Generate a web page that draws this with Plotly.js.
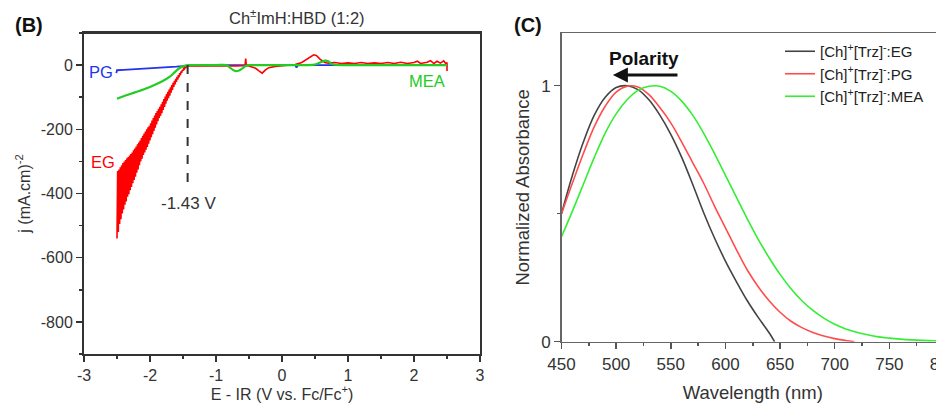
<!DOCTYPE html>
<html>
<head>
<meta charset="utf-8">
<script src="https://cdn.plot.ly/plotly-3.0.1.min.js"></script>
<style>
html,body{margin:0;padding:0;overflow:hidden;background:#fff;}
#chart{width:960px;height:403px;}
</style>
</head>
<body>
<div id="chart"></div>
<script>
// ---------- Panel B: current density vs potential ----------
const egX = [-2.50,-2.49,-2.48,-2.47,-2.46,-2.45,-2.44,-2.43,-2.42,-2.41,-2.40,-2.39,-2.38,-2.37,-2.36,-2.35,-2.34,-2.33,-2.32,-2.31,-2.30,-2.29,-2.28,-2.27,-2.26,-2.25,-2.24,-2.23,-2.22,-2.21,-2.20,-2.19,-2.18,-2.17,-2.16,-2.15,-2.14,-2.13,-2.12,-2.11,-2.10,-2.09,-2.08,-2.07,-2.06,-2.05,-2.04,-2.03,-2.02,-2.01,-2.00,-1.99,-1.98,-1.97,-1.96,-1.95,-1.94,-1.93,-1.92,-1.91,-1.90,-1.89,-1.88,-1.87,-1.86,-1.85,-1.84,-1.83,-1.82,-1.81,-1.80,-1.79,-1.78,-1.77,-1.76,-1.75,-1.74,-1.73,-1.72,-1.71,-1.70,-1.69,-1.68,-1.67,-1.66,-1.65,-1.64,-1.63,-1.62,-1.61,-1.60,-1.59,-1.58,-1.57,-1.56,-1.55,-1.54,-1.53,-1.52,-1.51,-1.50,-1.49,-1.48,-1.47,-1.46,-1.45,-1.44,
  -1.40,-1.30,-1.20,-1.10,-1.00,-0.90,-0.80,-0.70,-0.60,-0.56,-0.55,-0.54,-0.50,-0.45,-0.40,-0.35,-0.30,-0.25,-0.20,-0.10,0.00,0.10,0.20,0.30,0.40,0.48,0.52,0.58,0.65,0.70,0.80,0.90,1.00,1.10,1.20,1.30,1.40,1.50,1.60,1.70,1.80,1.90,2.00,2.05,2.10,2.20,2.25,2.30,2.35,2.40,2.45,2.48,2.50,2.50];
const egY = [-540,-330,-520,-325,-495,-318,-480,-312,-462,-305,-450,-300,-435,-296,-425,-290,-410,-286,-402,-282,-390,-277,-380,-272,-368,-265,-358,-260,-348,-254,-335,-247,-325,-241,-312,-235,-300,-227,-292,-220,-280,-213,-272,-207,-264,-200,-255,-194,-245,-189,-235,-181,-225,-173,-215,-165,-205,-157,-195,-149,-185,-143,-175,-136,-165,-130,-158,-122,-150,-114,-140,-106,-130,-98,-120,-90,-111,-83,-103,-76,-95,-69,-86,-62,-77,-55,-68,-49,-60,-43,-52,-37,-45,-31,-38,-25,-31,-20,-24,-15,-18,-10,-12,-6,-8,-4,-4,
  -2,-3,-2,-3,-2,-3,-2,-3,-2,-2,20,-2,-3,-6,-10,-18,-25,-15,-8,-4,-2,0,2,8,22,32,30,18,8,6,8,5,7,5,8,5,7,5,8,5,9,5,8,12,5,9,14,5,12,6,13,5,8,-18];

const pgX = [-2.51,-2.50,-2.40,-2.30,-2.20,-2.10,-2.00,-1.90,-1.80,-1.70,-1.60,-1.50,-1.40,-1.00,-0.50,0.00,0.20,0.22,0.24,0.50,1.00,1.50,2.00,2.50];
const pgY = [-25,-16,-15,-14,-13,-12,-11,-10,-9,-7,-5,-3,-1,0,0,0,0,-8,0,0,0,0,0,0];

const meaX = [-2.50,-2.40,-2.30,-2.20,-2.10,-2.00,-1.90,-1.80,-1.70,-1.65,-1.60,-1.55,-1.50,-1.45,-1.40,-1.00,-0.85,-0.80,-0.75,-0.70,-0.65,-0.60,-0.55,-0.50,-0.40,0.00,0.40,0.50,0.55,0.60,0.65,0.70,0.75,0.80,1.00,1.50,2.00,2.50];
const meaY = [-105,-97,-90,-83,-76,-68,-59,-49,-36,-27,-17,-9,-4,-1,0,0,0,-6,-14,-19,-17,-10,-3,0,0,0,0,2,6,10,14,12,4,1,0,0,0,0];

const onsetV = -1.43;
const onsetDepth = -370;

const bXTicks = [-3,-2,-1,0,1,2,3];
const bXLabels = ['-3','-2','-1','0','1','2','3'];
const bYTicks = [-800,-600,-400,-200,0];
const bYLabels = ['-800','-600','-400','-200','0'];

// ---------- Panel C: normalized absorbance ----------
const wlEG = [450,460,470,480,490,500,510,520,530,540,550,560,570,580,590,600,610,620,630,640,645];
const absEG = [0.50,0.65,0.78,0.885,0.955,0.993,1.0,0.985,0.945,0.885,0.81,0.72,0.615,0.505,0.405,0.315,0.235,0.16,0.095,0.035,0.0];

const wlPG = [450,460,470,480,490,500,510,520,530,540,550,560,570,580,590,600,610,620,630,640,650,660,670,680,690,700,710,718];
const absPG = [0.50,0.62,0.735,0.84,0.92,0.975,0.998,0.995,0.965,0.915,0.855,0.78,0.70,0.62,0.53,0.445,0.36,0.28,0.215,0.16,0.115,0.08,0.055,0.036,0.022,0.012,0.005,0.0];

const wlMEA = [450,460,470,480,490,500,510,520,530,540,550,560,570,580,590,600,610,620,630,640,650,660,670,680,690,700,710,720,730,740,750,760,770,780,790,800];
const absMEA = [0.41,0.51,0.615,0.72,0.815,0.89,0.945,0.982,0.998,0.998,0.978,0.94,0.885,0.815,0.735,0.65,0.565,0.48,0.40,0.328,0.263,0.207,0.16,0.122,0.092,0.068,0.05,0.037,0.027,0.019,0.014,0.01,0.007,0.005,0.004,0.003];

const legendNames = ["[Ch]<sup>+</sup>[Trz]<sup>-</sup>:EG","[Ch]<sup>+</sup>[Trz]<sup>-</sup>:PG","[Ch]<sup>+</sup>[Trz]<sup>-</sup>:MEA"];

const W = 960, H = 403;
const FONT = "Liberation Sans, Arial, sans-serif";

const traces = [
  {x: pgX, y: pgY, xaxis:'x', yaxis:'y', mode:'lines', line:{color:'#2233ee', width:1.8}, showlegend:false, hoverinfo:'skip'},
  {x: egX, y: egY, xaxis:'x', yaxis:'y', mode:'lines', line:{color:'#ff0000', width:1.6}, showlegend:false, hoverinfo:'skip'},
  {x: meaX, y: meaY, xaxis:'x', yaxis:'y', mode:'lines', line:{color:'#22cc22', width:2.2, shape:'spline'}, showlegend:false, hoverinfo:'skip'},
  {x: wlEG, y: absEG, xaxis:'x2', yaxis:'y2', mode:'lines', name: legendNames[0], legendgroup:'a', line:{color:'#444444', width:1.6, shape:'spline'}},
  {x: wlPG, y: absPG, xaxis:'x2', yaxis:'y2', mode:'lines', name: legendNames[1], legendgroup:'b', line:{color:'#ff4d4d', width:1.6, shape:'spline'}},
  {x: wlMEA, y: absMEA, xaxis:'x2', yaxis:'y2', mode:'lines', name: legendNames[2], legendgroup:'c', line:{color:'#33ee33', width:1.6, shape:'spline'}}
];

const tickFontB = {family: FONT, size: 16, color:'#333'};
const tickFontC = {family: FONT, size: 17, color:'#333'};
const layout = {
  width: W, height: H,
  margin: {l:0, r:0, t:0, b:0},
  paper_bgcolor:'#fff', plot_bgcolor:'#fff',
  font: {family: FONT, color:'#333'},
  xaxis: {
    domain:[84/W, 480/W], range:[-3,3], tickmode:'array', tickvals:bXTicks, ticktext:bXLabels,
    showgrid:false, zeroline:false, showline:true, mirror:true, linecolor:'#333', linewidth:2,
    ticks:'outside', ticklen:6, tickwidth:1.5, tickcolor:'#333', tickfont: tickFontB,
    minor:{tickmode:'linear', tick0:0, dtick:0.5, ticks:'outside', ticklen:3, tickwidth:1.5, tickcolor:'#333'},
    title:{text:'E - IR (V vs. Fc/Fc<sup>+</sup>)', font:{family:FONT, size:16, color:'#333'}, standoff:0},
    anchor:'y', fixedrange:true
  },
  yaxis: {
    domain:[(H-354)/H, (H-33)/H], range:[-900,100], tickmode:'array', tickvals:bYTicks, ticktext:bYLabels,
    showgrid:false, zeroline:false, showline:true, mirror:true, linecolor:'#333', linewidth:2,
    ticks:'outside', ticklen:6, tickwidth:1.5, tickcolor:'#333', tickfont: tickFontB,
    minor:{tickmode:'linear', tick0:0, dtick:100, ticks:'outside', ticklen:3, tickwidth:1.5, tickcolor:'#333'},
    title:{text:'j (mA.cm)<sup>-2</sup>', font:{family:FONT, size:16, color:'#333'}, standoff:6},
    anchor:'x', fixedrange:true
  },
  xaxis2: {
    domain:[561.5/W, 944/W], range:[450,800], dtick:50, tick0:450,
    showgrid:false, zeroline:false, showline:true, mirror:true, linecolor:'#666', linewidth:1.5,
    ticks:'outside', ticklen:6, tickwidth:1.5, tickcolor:'#555', tickfont: tickFontC,
    minor:{dtick:25, ticks:'outside', ticklen:3, tickwidth:1.5, tickcolor:'#555'},
    title:{text:'Wavelength (nm)', font:{family:FONT, size:18.5, color:'#333'}, standoff:13},
    anchor:'y2', fixedrange:true
  },
  yaxis2: {
    domain:[(H-341.7)/H, (H-33)/H], range:[0,1.206], dtick:1, tick0:0,
    showgrid:false, zeroline:false, showline:true, mirror:true, linecolor:'#666', linewidth:1.5,
    ticks:'outside', ticklen:6, tickwidth:1.5, tickcolor:'#555', tickfont: tickFontC,
    minor:{dtick:0.5, ticks:'outside', ticklen:3, tickwidth:1.5, tickcolor:'#555'},
    title:{text:'Normalized Absorbance', font:{family:FONT, size:18.5, color:'#333'}, standoff:6},
    anchor:'x2', fixedrange:true
  },
  showlegend: true,
  legend: {
    x: 780/W, y: (H-35)/H, xanchor:'left', yanchor:'top',
    bgcolor:'rgba(0,0,0,0)', borderwidth:0,
    font:{family:FONT, size:15, color:'#222'},
    traceorder:'grouped', tracegroupgap:0, itemwidth:30
  },
  shapes: [
    {type:'line', xref:'x', yref:'y', x0:onsetV, x1:onsetV, y0:0, y1:onsetDepth,
     line:{color:'#333', width:2, dash:'dash'}},
    {type:'line', xref:'x domain', yref:'y domain', x0:0, x1:1, y0:1, y1:1,
     line:{color:'#333', width:2}}
  ],
  annotations: [
    {xref:'paper', yref:'paper', x:29/W, y:(H-25)/H, xanchor:'center', yanchor:'middle', text:'<b>(B)</b>', showarrow:false, font:{family:FONT, size:20, color:'#111'}},
    {xref:'paper', yref:'paper', x:527.5/W, y:(H-25)/H, xanchor:'center', yanchor:'middle', text:'<b>(C)</b>', showarrow:false, font:{family:FONT, size:20, color:'#111'}},
    {xref:'paper', yref:'paper', x:296.5/W, y:(H-17)/H, xanchor:'center', yanchor:'middle', text:'Ch<sup>±</sup>ImH:HBD (1:2)', showarrow:false, font:{family:FONT, size:16.5, color:'#333'}},
    {xref:'x', yref:'y', x:-2.74, y:-20, xanchor:'center', yanchor:'middle', text:'PG', showarrow:false, font:{family:FONT, size:16.5, color:'#2233ee'}},
    {xref:'x', yref:'y', x:-2.71, y:-301, xanchor:'center', yanchor:'middle', text:'EG', showarrow:false, font:{family:FONT, size:16.5, color:'#ff0000'}},
    {xref:'x', yref:'y', x:2.20, y:-48, xanchor:'center', yanchor:'middle', text:'MEA', showarrow:false, font:{family:FONT, size:16.5, color:'#22cc22'}},
    {xref:'x', yref:'y', x:-1.41, y:-432, xanchor:'center', yanchor:'middle', text:'-1.43 V', showarrow:false, font:{family:FONT, size:17, color:'#333'}},
    {xref:'x2', yref:'y2', x:525.5, y:1.108, xanchor:'center', yanchor:'middle', text:'<b>Polarity</b>', showarrow:false, font:{family:FONT, size:19, color:'#111'}},
    {xref:'x2', yref:'y2', x:497, y:1.042, ax:557.5, ay:1.042, axref:'x2', ayref:'y2', text:'', showarrow:true,
     arrowhead:2, arrowsize:1, arrowwidth:3, arrowcolor:'#111'}
  ]
};

Plotly.newPlot('chart', traces, layout, {staticPlot:true, displayModeBar:false});
</script>
</body>
</html>
